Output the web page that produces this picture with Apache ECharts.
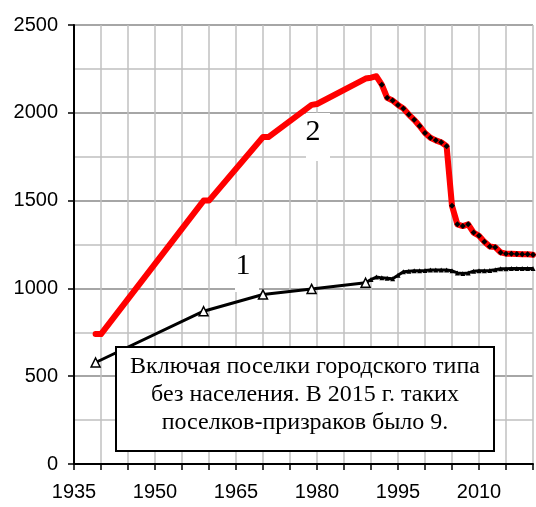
<!DOCTYPE html>
<html>
<head>
<meta charset="utf-8">
<script src="https://cdn.jsdelivr.net/npm/echarts@6/dist/echarts.min.js"></script>
<style>
  html, body { margin: 0; padding: 0; background: #fff; }
  #chart { width: 536px; height: 507px; }
</style>
</head>
<body>
<div id="chart"></div>
<script>
// series 1: all towns (census years, then annual)
const censusYears = [1939, 1959, 1970, 1979, 1989];
const censusTowns = [578, 870, 965, 997, 1032];
const annualYears = [1990, 1991, 1992, 1993, 1994, 1995, 1996, 1997, 1998, 1999,
  2000, 2001, 2002, 2003, 2004, 2005, 2006, 2007, 2008, 2009,
  2010, 2011, 2012, 2013, 2014, 2015, 2016, 2017, 2018, 2019, 2020];
const annualTowns = [1050, 1065, 1060, 1058, 1055, 1075, 1095, 1098, 1100, 1100,
  1102, 1105, 1105, 1105, 1105, 1100, 1088, 1085, 1088, 1098,
  1100, 1100, 1102, 1106, 1112, 1112, 1113, 1113, 1113, 1113, 1113];

// series 2
const line2Years = [1939, 1940, 1959, 1960, 1970, 1971, 1979, 1980, 1989, 1990, 1991,
  1992, 1993, 1994, 1995, 1996, 1997, 1998, 1999, 2000, 2001,
  2002, 2003, 2004, 2005, 2006, 2007, 2008, 2009, 2010, 2011,
  2012, 2013, 2014, 2015, 2016, 2017, 2018, 2019, 2020];
const line2Values = [740, 740, 1500, 1500, 1862, 1862, 2045, 2050, 2195, 2200, 2208,
  2160, 2085, 2070, 2045, 2025, 1990, 1960, 1925, 1885, 1858,
  1843, 1832, 1810, 1470, 1365, 1355, 1365, 1318, 1300, 1265,
  1238, 1235, 1205, 1198, 1197, 1196, 1195, 1194, 1192];
const dottedFrom = 1992;

const yTicks = [0, 500, 1000, 1500, 2000, 2500];
const xLabelYears = [1935, 1950, 1965, 1980, 1995, 2010];

const noteLines = [
  "Включая поселки городского типа",
  "без населения. В 2015 г. таких",
  "поселков-призраков было 9."
];

const series1Data = censusYears.map((y, i) => ({
  value: [y, censusTowns[i]],
  symbol: "triangle",
  symbolSize: 9,
  itemStyle: { color: "#fff", borderColor: "#000", borderWidth: 1.5 }
})).concat(annualYears.map((y, i) => ({
  value: [y, annualTowns[i]],
  symbol: "triangle",
  symbolSize: 5,
  itemStyle: { color: "#000" }
})));

const series2Data = line2Years.map((y, i) => ({
  value: [y, line2Values[i]],
  symbol: y >= dottedFrom ? "diamond" : "none",
  symbolSize: 6,
  itemStyle: { color: "#000" }
}));

const chart = echarts.init(document.getElementById("chart"), null, { renderer: "canvas" });

const option = {
  animation: false,
  grid: { left: 74, right: 1, top: 25, bottom: 43 },
  xAxis: {
    type: "value",
    min: 1935,
    max: 2020,
    interval: 5,
    axisLine: { lineStyle: { color: "#000", width: 2 } },
    axisTick: { show: true, length: 6, lineStyle: { color: "#000", width: 1.5 } },
    axisLabel: {
      margin: 18,
      fontFamily: "Liberation Sans",
      fontSize: 20,
      color: "#000",
      formatter: v => (xLabelYears.includes(v) ? String(v) : "")
    },
    splitLine: { show: true, lineStyle: { color: "#c0c0c0", width: 1.5 } }
  },
  yAxis: {
    type: "value",
    min: 0,
    max: 2500,
    interval: 500,
    axisLine: { show: true, lineStyle: { color: "#000", width: 2 } },
    axisTick: { show: true, length: 6, lineStyle: { color: "#000", width: 1.5 } },
    axisLabel: {
      margin: 16,
      fontFamily: "Liberation Sans",
      fontSize: 20,
      color: "#000",
      formatter: v => (yTicks.includes(v) ? String(v) : "")
    },
    splitLine: { show: true, lineStyle: { color: "#888", width: 1.5 } },
    minorTick: { show: false, splitNumber: 2 },
    minorSplitLine: { show: true, lineStyle: { color: "#c0c0c0", width: 1.5 } }
  },
  series: [
    {
      name: "1",
      type: "line",
      data: series1Data,
      z: 3,
      lineStyle: { color: "#000", width: 3 },
      itemStyle: { color: "#000" }
    },
    {
      name: "2",
      type: "line",
      data: series2Data,
      z: 4,
      lineStyle: { color: "#ff0000", width: 6, join: "round", cap: "round" },
      itemStyle: { color: "#000" }
    }
  ],
  graphic: [
    { type: "rect", z: 1, shape: { x: 306, y: 113, width: 24, height: 48 }, style: { fill: "#fff" } },
    { type: "text", z: 1, x: 313, y: 132, style: { text: "2", font: "30px 'Liberation Serif'", fill: "#000", align: "center", verticalAlign: "middle" } },
    { type: "rect", z: 1, shape: { x: 235, y: 246, width: 24, height: 46 }, style: { fill: "#fff" } },
    { type: "text", z: 1, x: 243, y: 266, style: { text: "1", font: "30px 'Liberation Serif'", fill: "#000", align: "center", verticalAlign: "middle" } },
    { type: "rect", z: 10, shape: { x: 116, y: 347, width: 378, height: 104 }, style: { fill: "#fff", stroke: "#000", lineWidth: 2 } },
    { type: "text", z: 11, x: 305, y: 395, style: { text: noteLines.join("\n"), font: "24px 'Liberation Serif'", lineHeight: 28, fill: "#000", align: "center", verticalAlign: "middle" } }
  ]
};

chart.setOption(option);
</script>
</body>
</html>
